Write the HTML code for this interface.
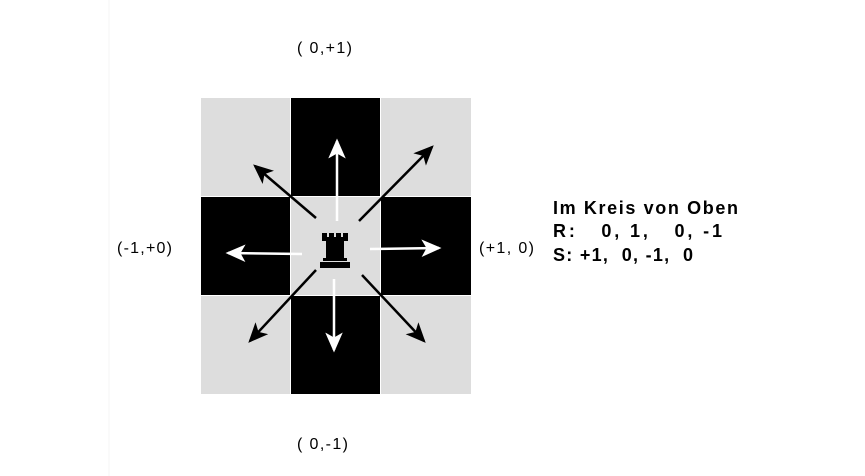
<!DOCTYPE html>
<html><head><meta charset="utf-8"><style>
body{margin:0;background:#fff;width:865px;height:476px;overflow:hidden;font-family:"Liberation Sans",sans-serif}
svg{display:block}
</style></head><body>
<svg width="865" height="476">
<defs>
<marker id="aw" markerWidth="8" markerHeight="7" refX="7" refY="3.5" orient="auto" markerUnits="strokeWidth"><path d="M0,0 L8,3.5 L0,7 L2,3.5 Z" fill="#fff"/></marker>
<marker id="ab" markerWidth="8" markerHeight="7" refX="7" refY="3.5" orient="auto" markerUnits="strokeWidth"><path d="M0,0 L8,3.5 L0,7 L2,3.5 Z" fill="#000"/></marker>
</defs>
<line x1="109" y1="0" x2="109" y2="476" stroke="#f4f4f4"/>
<g id="board"></g>
<g id="arrows"></g>
<g fill="#000">
<rect x="322" y="233" width="5" height="5"/><rect x="329" y="233" width="5" height="5"/><rect x="336" y="233" width="5" height="5"/><rect x="343" y="233" width="5" height="5"/>
<rect x="322" y="237" width="26" height="4"/>
<rect x="326" y="241" width="18" height="17"/>
<rect x="323" y="258" width="24" height="3"/>
<rect x="320" y="262" width="30" height="6"/>
</g>
<g font-size="16" fill="#000">
<text x="297" y="53" textLength="55">( 0,+1)</text>
<text x="297" y="449" textLength="51">( 0,-1)</text>
<text x="117" y="253" textLength="55">(-1,+0)</text>
<text x="479" y="253" textLength="55">(+1, 0)</text>
</g>
<g font-size="18" font-weight="bold" fill="#000">
<text x="553" y="214" textLength="185">Im Kreis von Oben</text>
<text x="553" y="237" xml:space="preserve" textLength="169">R:   0, 1,   0, -1</text>
<text x="553" y="261" xml:space="preserve" textLength="140">S: +1,  0, -1,  0</text>
</g>
</svg>
<script>
const xs=[201,291,381,472], ys=[98,197,296,395];
const board=document.getElementById('board');
const NS='http://www.w3.org/2000/svg';
for(let r=0;r<3;r++)for(let c=0;c<3;c++){
 const el=document.createElementNS(NS,'rect');
 el.setAttribute('x',xs[c]);el.setAttribute('y',ys[r]);
 el.setAttribute('width',xs[c+1]-xs[c]-1);el.setAttribute('height',ys[r+1]-ys[r]-1);
 el.setAttribute('fill',((r+c)%2===1)?'#000':'#dddddd');
 
 
 board.appendChild(el);
}
const arrowsData=[
 [337,221,337,141,'w'],[334,279,334,350,'w'],[302,254,228,253,'w'],[370,249,439,248,'w'],
 [316,218,255,166,'b'],[359,221,432,147,'b'],[316,270,250,341,'b'],[362,275,424,341,'b']];
const ag=document.getElementById('arrows');
arrowsData.forEach(a=>{
 const el=document.createElementNS(NS,'line');
 el.setAttribute('x1',a[0]);el.setAttribute('y1',a[1]);el.setAttribute('x2',a[2]);el.setAttribute('y2',a[3]);
 el.setAttribute('stroke',a[4]==='w'?'#fff':'#000');el.setAttribute('stroke-width','2.5');
 el.setAttribute('marker-end','url(#a'+a[4]+')');
 
 
 ag.appendChild(el);
});
</script>
</body></html>
